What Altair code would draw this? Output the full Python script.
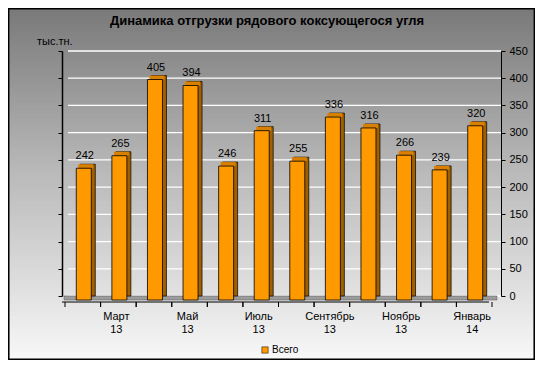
import altair as alt
import pandas as pd

title_text = "Динамика отгрузки рядового коксующегося угля"
unit_text = "тыс.тн."
series_name = "Всего"
months = ["Февраль 13", "Март 13", "Апрель 13", "Май 13", "Июнь 13", "Июль 13",
          "Август 13", "Сентябрь 13", "Октябрь 13", "Ноябрь 13", "Декабрь 13", "Январь 14"]
values = [242, 265, 405, 394, 246, 311, 255, 336, 316, 266, 239, 320]
y_ticks = [0, 50, 100, 150, 200, 250, 300, 350, 400, 450]

month_labels = [m if i % 2 == 1 else "" for i, m in enumerate(months)]
df = pd.DataFrame({"month": months, "value": values, "label": month_labels,
                   "series": [series_name] * len(months)})
grid_df = pd.DataFrame({"tick": y_ticks})

W, H = 427, 245
PL, PT, PR, PB = 60, 43, 40, 64
FONT = "Liberation Sans"
BAND = W / len(months)

dummy = pd.DataFrame({"a": [0]})

# decorative background shading, drawn as horizontal stripes in three column pieces
stripes = pd.DataFrame({"s": list(range(89))})
stripe_y = alt.Y("s:Q", axis=None, scale=alt.Scale(domain=[0, 88], range=[-PT + 2, H + PB - 2], nice=False, zero=False))
stripe_color = alt.Color("s:Q", legend=None,
                         scale=alt.Scale(domain=[0, 40, 88], range=["#7a7a7a", "#b8b8b8", "#f7f7f7"]))
pieces = [(-PL + 1.5, 120), (120, 300), (300, W + PR - 1.5)]
bg_layers = [
    alt.Chart(stripes).mark_rule(strokeWidth=5).encode(
        y=stripe_y, x=alt.value(a), x2=alt.value(b), color=stripe_color)
    for a, b in pieces
]

border = alt.Chart(dummy).mark_rect(filled=False, stroke="#000000", strokeWidth=1.5).encode(
    x=alt.value(-PL + 0.75), x2=alt.value(W + PR - 0.75),
    y=alt.value(-PT + 0.75), y2=alt.value(H + PB - 0.75))

yscale = alt.Scale(domain=[0, 450], nice=False)
xscale = alt.Scale(paddingInner=0, paddingOuter=0)

grid = alt.Chart(grid_df).mark_rule(color="#ffffff", strokeWidth=1.3).encode(
    y=alt.Y("tick:Q", scale=yscale, axis=None), x=alt.value(0), x2=alt.value(W + 6))

floor = alt.Chart(dummy).mark_rect(color="#9c9c9c", stroke="#555555", strokeWidth=0.5).encode(
    x=alt.value(-4), x2=alt.value(W + 2), y=alt.value(H), y2=alt.value(H + 4))

back = alt.Chart(df).mark_bar(size=15, xOffset=2, color="#a05f00", stroke="#000000", strokeWidth=0.7).encode(
    x=alt.X("month:N", sort=months, scale=xscale, axis=None),
    y=alt.Y("value:Q", scale=yscale, axis=alt.Axis(
        orient="left", labels=False, grid=False, title=None, values=y_ticks, zindex=1,
        domainColor="#000000", tickColor="#000000", tickSize=4, offset=6, domainWidth=1.5)),
)

top = alt.Chart(df).mark_tick(size=15, thickness=4, xOffset=0, yOffset=2, color="#d98000", opacity=1).encode(
    x=alt.X("month:N", sort=months, scale=xscale, axis=None),
    y=alt.Y("value:Q", scale=yscale, axis=None),
)

front = alt.Chart(df).mark_bar(size=15, xOffset=-2, yOffset=4, stroke="#000000", strokeWidth=0.8).encode(
    x=alt.X("month:N", sort=months, scale=xscale, axis=None),
    y=alt.Y("value:Q", scale=yscale, axis=alt.Axis(
        orient="right", title=None, values=y_ticks, grid=False, zindex=1,
        domainColor="#000000", tickColor="#000000", tickSize=4, offset=6,
        labelFont=FONT, labelFontSize=11, labelColor="#000000", labelPadding=4)),
    color=alt.Color("series:N", scale=alt.Scale(domain=[series_name], range=["#ff9900"]),
                    legend=alt.Legend(title=None, orient="none", legendX=192, legendY=294,
                                      symbolType="square", symbolSize=40, symbolStrokeColor="#000000",
                                      symbolStrokeWidth=0.5, labelFont=FONT, labelFontSize=10,
                                      labelColor="#000000", labelOffset=2)),
)

labels = alt.Chart(df).mark_text(baseline="bottom", dy=-3, dx=-1, font=FONT, fontSize=11, color="#000000").encode(
    x=alt.X("month:N", sort=months, scale=xscale, axis=None),
    y=alt.Y("value:Q", scale=yscale, axis=None), text="value:Q")

x_domain = alt.Chart(dummy).mark_rule(color="#000000", strokeWidth=1).encode(
    x=alt.value(-6), x2=alt.value(W - 6), y=alt.value(H + 6))
x_ticks_l = alt.Chart(df).mark_rule(color="#000000", strokeWidth=1, xOffset=-BAND / 2 - 3).encode(
    x=alt.X("month:N", sort=months, scale=xscale, axis=None), y=alt.value(H + 6), y2=alt.value(H + 11))
x_ticks_r = alt.Chart(df).mark_rule(color="#000000", strokeWidth=1, xOffset=BAND / 2 - 3).encode(
    x=alt.X("month:N", sort=months, scale=xscale, axis=None), y=alt.value(H + 6), y2=alt.value(H + 11))
x_labels = alt.Chart(df).mark_text(font=FONT, fontSize=11, color="#000000", baseline="top",
                                   align="center", lineBreak=" ", lineHeight=13, dx=-5).encode(
    x=alt.X("month:N", sort=months, scale=xscale, axis=None), y=alt.value(H + 15), text="label:N")

title = alt.Chart(pd.DataFrame({"t": [title_text]})).mark_text(
    font=FONT, fontSize=13, fontWeight="bold", color="#000000", baseline="middle", align="center").encode(
    x=alt.value(267 - 68), y=alt.value(21 - 51), text="t:N")

unit = alt.Chart(pd.DataFrame({"t": [unit_text]})).mark_text(
    font=FONT, fontSize=11, color="#000000", baseline="middle", align="left").encode(
    x=alt.value(37 - 68), y=alt.value(42 - 51), text="t:N")

chart = alt.layer(*bg_layers, border, grid, floor, back, top, front, labels, x_domain, x_ticks_l, x_ticks_r,
                  x_labels, title, unit).resolve_scale(
    y="independent", color="independent"
).properties(
    width=W, height=H, padding={"left": PL, "top": PT, "right": PR, "bottom": PB},
    autosize=alt.AutoSizeParams(type="none"),
).configure(background="#bdbdbd").configure_view(stroke=None)

chart.save("out.html", embed_options={"renderer": "svg", "actions": False})
